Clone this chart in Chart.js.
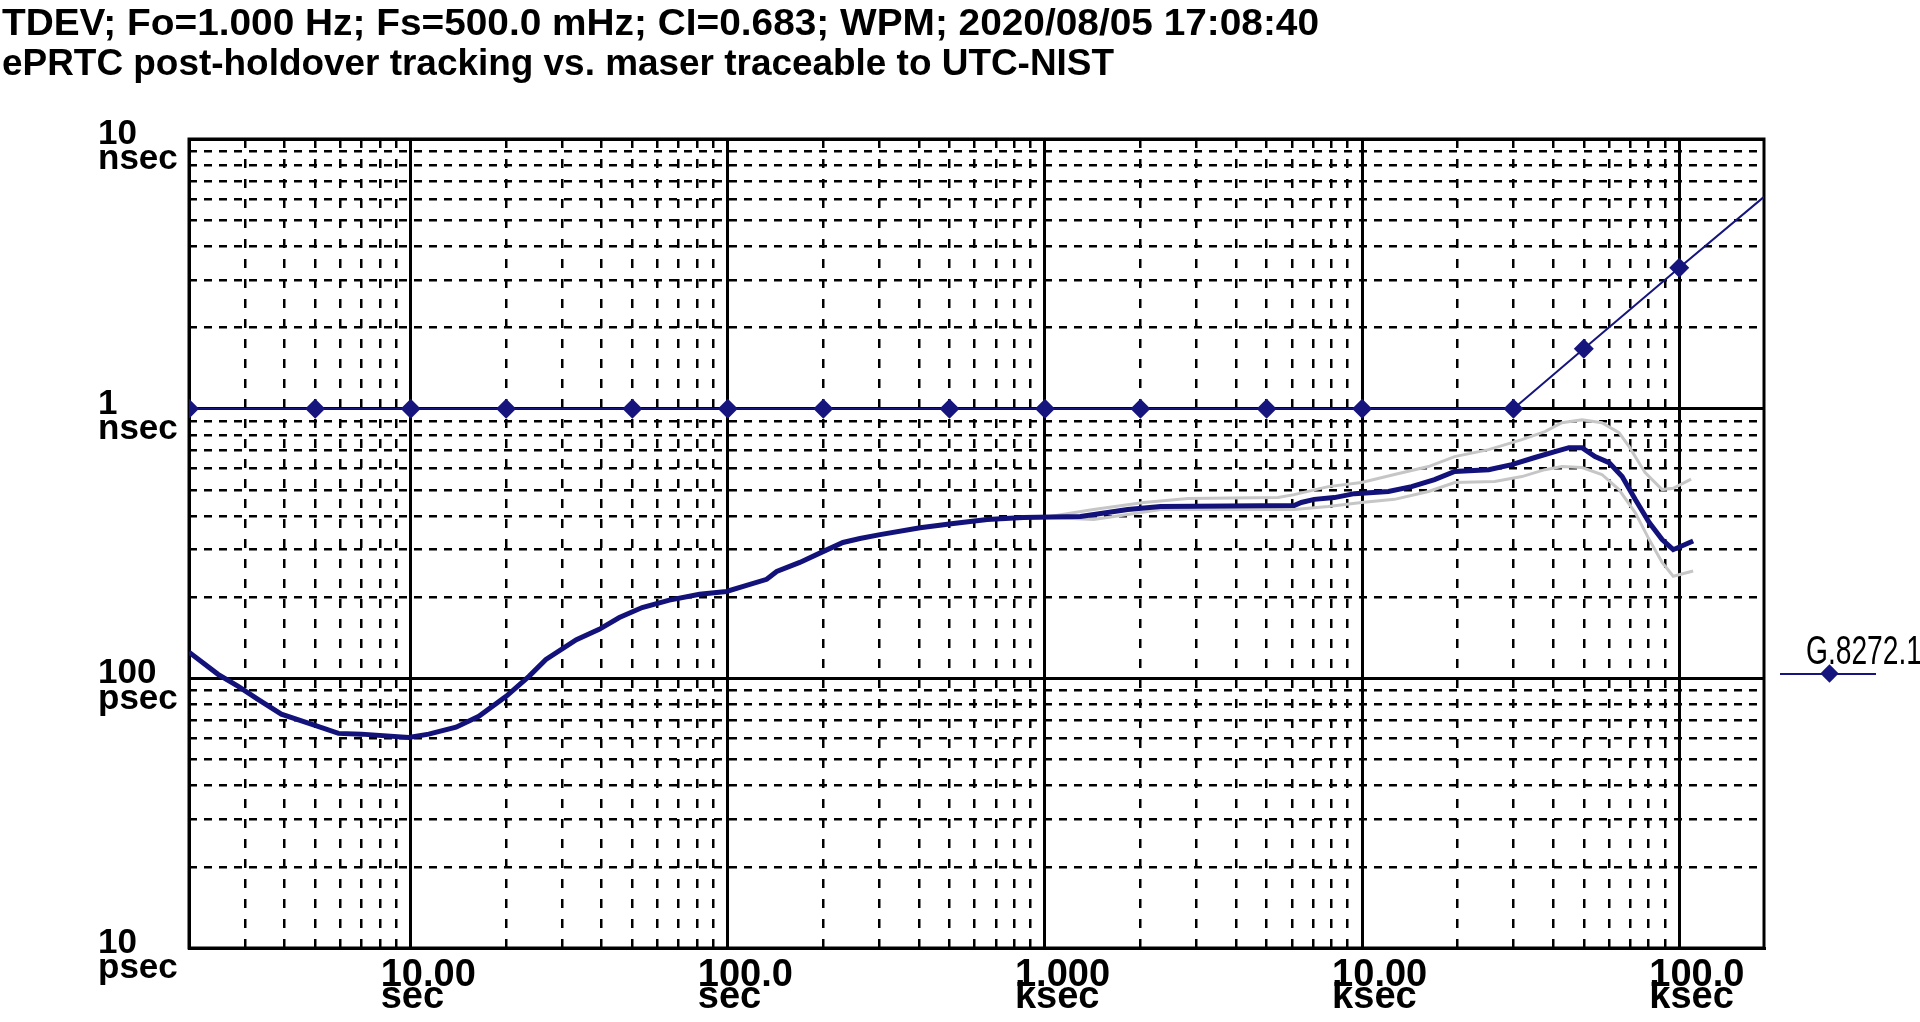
<!DOCTYPE html>
<html><head><meta charset="utf-8">
<script src="https://cdn.jsdelivr.net/npm/chart.js@4"></script>
<style>
html,body{margin:0;padding:0;background:#fff;overflow:hidden}
#wrap{position:relative;width:1920px;height:1022px;overflow:hidden}
#c{position:absolute;left:0;top:0}
.t{position:absolute;left:2px;white-space:nowrap;font-family:"Liberation Sans",Arial,sans-serif;font-weight:bold;font-size:37px;line-height:37px;transform-origin:0 0;color:#000}
#lg{position:absolute;left:1806px;top:630px;white-space:nowrap;font-family:"Liberation Sans",Arial,sans-serif;font-size:40px;line-height:40px;transform-origin:0 0;color:#000}
#lgline{position:absolute;left:1780px;top:673px;width:96px;height:2px;background:#15157d}
#lgdia{position:absolute;left:1823px;top:667px;width:13px;height:13px;background:#15157d;transform:rotate(45deg)}
</style></head><body>
<div id="wrap">
<canvas id="c" width="1920" height="1022"></canvas>
<span class="t" id="t1" style="top:4px">TDEV; Fo=1.000 Hz; Fs=500.0 mHz; CI=0.683; WPM; 2020/08/05 17:08:40</span>
<span class="t" id="t2" style="top:44px">ePRTC post-holdover tracking vs. maser traceable to UTC-NIST</span>
<span id="lg">G.8272.1</span>
<div id="lgline"></div><div id="lgdia"></div>
</div>
<script>
// ---- data (tau in seconds, TDEV in picoseconds) ----
const tdevTau = [2.0, 2.47, 2.86, 3.3, 3.91, 4.86, 5.92, 7.0, 9.86, 11.4, 13.9, 16.4, 20, 23.6, 26.7, 33.3, 39.3, 45.5, 53.7, 65.4, 81.4, 99, 114.6, 132.6, 142.6, 168.6, 199.5, 230.7, 261, 302, 404, 514, 658, 855, 1294, 1824, 2318, 6105, 6430, 7068, 8170, 9455, 12100, 14320, 16920, 19580, 25070, 29640, 35060, 40570, 44890, 49340, 54240, 60060, 66040, 72600, 80400, 88300, 95700, 110600];
const tdevPs  = [125, 103.5, 93.3, 83.6, 73.6, 67.6, 62.5, 62.1, 60.4, 62.1, 65.9, 72.3, 85.8, 101.7, 117.5, 139, 152, 168, 183, 195, 205, 210, 221, 233, 249, 269, 295, 319, 330, 341, 362, 375, 388, 395, 398, 423, 434, 437, 449, 461, 468, 484, 493, 514, 546, 585, 594, 620, 659, 693, 717, 717, 664, 631, 560, 461, 378, 327, 300, 323];

const upperTau = [1000, 1423, 2048, 2823, 5433, 6105, 7822, 9955, 12650, 16190, 19580, 25070, 31900, 37700, 42660, 49340, 57020, 64570, 69500, 78030, 88300, 95700, 109000];
const upperPs  = [396, 423, 449, 464, 468, 480, 514, 532, 570, 610, 664, 705, 768, 822, 887, 910, 887, 815, 723, 579, 501, 507, 548];

const lowerTau = [1000, 1423, 1824, 2318, 6105, 7822, 9955, 12650, 16190, 19580, 26180, 31900, 37700, 42660, 49340, 57020, 64570, 72600, 80400, 88300, 95700, 110600];
const lowerPs  = [396, 388, 405, 423, 423, 434, 449, 461, 493, 532, 537, 560, 594, 610, 605, 570, 501, 412, 327, 269, 239, 250];

const maskTau = [2, 5, 10, 20, 50, 100, 200, 500, 1000, 2000, 5000, 10000, 30000, 50000, 100000, 185000];
const maskPs  = [1000, 1000, 1000, 1000, 1000, 1000, 1000, 1000, 1000, 1000, 1000, 1000, 1000, 1667, 3333, 6100];
const maskName = 'G.8272.1';

const xTickValues = [10, 100, 1000, 10000, 100000];
const xTickLabels = [['10.00','sec'], ['100.0','sec'], ['1.000','ksec'], ['10.00','ksec'], ['100.0','ksec']];
const yTickValues = [10, 100, 1000, 10000];
const yTickLabels = [['10','psec'], ['100','psec'], ['1','nsec'], ['10','nsec']];
const X_MIN = 2, X_MAX = 185000, Y_MIN = 10, Y_MAX = 10000;

// minor grid positions (2..9 x each decade inside the range)
const xMinor = [];
for (let d = 1; d <= 100000; d *= 10) for (let k = 2; k <= 9; k++) { const v = k * d; if (v > X_MIN && v < X_MAX) xMinor.push(v); }
const yMinor = [];
for (let d = 10; d <= 1000; d *= 10) for (let k = 2; k <= 9; k++) yMinor.push(k * d);

const toXY = (xs, ys) => xs.map((x, i) => ({x: x, y: ys[i]}));

const NAVY = '#12127a';
const MASK = '#15157d';
const GRAY = '#c6c6c6';
const FONT = '"Liberation Sans", Arial, sans-serif';

const frame = {
  id: 'frame',
  beforeDatasetsDraw(chart) {
    const {ctx, chartArea: a} = chart;
    ctx.save();
    ctx.strokeStyle = '#000';
    ctx.lineWidth = 3;
    ctx.strokeRect(a.left, a.top, a.right - a.left, a.bottom - a.top);
    ctx.restore();
  }
};

new Chart(document.getElementById('c'), {
  type: 'line',
  data: {
    datasets: [
      {label: 'TDEV', data: toXY(tdevTau, tdevPs), borderColor: NAVY, borderWidth: 5, pointRadius: 0, tension: 0, order: 0, xAxisID: 'x', yAxisID: 'y'},
      {label: maskName, data: toXY(maskTau, maskPs), borderColor: MASK, borderWidth: 2, pointStyle: 'rectRot',
       pointRadius: maskTau.map((t, i) => i === maskTau.length - 1 ? 0 : 10), pointBackgroundColor: MASK, pointBorderColor: MASK, pointBorderWidth: 0, tension: 0, order: 1, xAxisID: 'x', yAxisID: 'y'},
      {label: 'upper', data: toXY(upperTau, upperPs), borderColor: GRAY, borderWidth: 3, pointRadius: 0, tension: 0, order: 2, xAxisID: 'x', yAxisID: 'y'},
      {label: 'lower', data: toXY(lowerTau, lowerPs), borderColor: GRAY, borderWidth: 3, pointRadius: 0, tension: 0, order: 2, xAxisID: 'x', yAxisID: 'y'}
    ]
  },
  options: {
    responsive: false,
    animation: false,
    devicePixelRatio: 1,
    layout: {padding: {left: 98, top: 139, right: 156, bottom: 0}},
    plugins: {legend: {display: false}, tooltip: {enabled: false}, title: {display: false}},
    scales: {
      x: {
        type: 'logarithmic', position: 'bottom', min: X_MIN, max: X_MAX, weight: 1,
        afterBuildTicks: s => { s.ticks = xTickValues.map(v => ({value: v})); },
        afterFit: s => { s.height = 74; },
        grid: {color: '#000', lineWidth: 3, drawTicks: false},
        border: {display: true, color: '#000', width: 3},
        ticks: {autoSkip: false, maxRotation: 0, minRotation: 0, align: 'start', labelOffset: -30, padding: 16, color: '#000',
          font: {family: FONT, weight: 'bold', size: 38, lineHeight: 0.59},
          callback: (v, i) => xTickLabels[i]}
      },
      xm: {
        type: 'logarithmic', position: 'bottom', min: X_MIN, max: X_MAX, weight: 0,
        afterBuildTicks: s => { s.ticks = xMinor.map(v => ({value: v})); },
        afterFit: s => { s.height = 0; },
        grid: {color: '#000', lineWidth: 2.5, drawTicks: false},
        border: {display: false, dash: [9, 11]},
        ticks: {display: false}
      },
      y: {
        type: 'logarithmic', position: 'left', min: Y_MIN, max: Y_MAX, weight: 1,
        afterBuildTicks: s => { s.ticks = yTickValues.map(v => ({value: v})); },
        afterFit: s => { s.width = 91; },
        grid: {color: '#000', lineWidth: 3, drawTicks: false},
        border: {display: true, color: '#000', width: 3},
        ticks: {autoSkip: false, crossAlign: 'far', padding: 0, labelOffset: 8, color: '#000',
          font: {family: FONT, weight: 'bold', size: 35, lineHeight: 0.72},
          callback: (v, i) => yTickLabels[i]}
      },
      ym: {
        type: 'logarithmic', position: 'left', min: Y_MIN, max: Y_MAX, weight: 0,
        afterBuildTicks: s => { s.ticks = yMinor.map(v => ({value: v})); },
        afterFit: s => { s.width = 0; },
        grid: {color: '#000', lineWidth: 2.5, drawTicks: false},
        border: {display: false, dash: [8, 7]},
        ticks: {display: false}
      }
    }
  },
  plugins: [frame]
});

function fit(id, w) {
  const e = document.getElementById(id);
  const r = e.getBoundingClientRect().width;
  e.style.transform = 'scaleX(' + (w / r) + ')';
}
fit('t1', 1317);
fit('t2', 1112);
fit('lg', 116);
</script>
</body></html>
